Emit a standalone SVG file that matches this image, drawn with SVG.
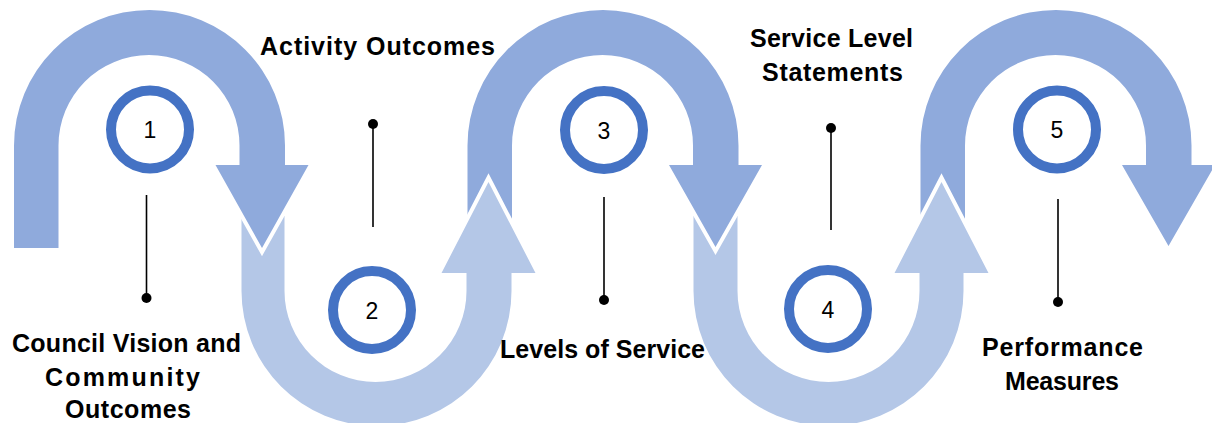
<svg xmlns="http://www.w3.org/2000/svg" width="1212" height="423" viewBox="0 0 1212 423">
<style>
.dark{fill:#8faadc;stroke:#fff;stroke-width:8;paint-order:stroke;stroke-linejoin:miter}
.light{fill:#b4c7e7;stroke:#fff;stroke-width:8;paint-order:stroke;stroke-linejoin:miter}
.ring{fill:#fff;stroke:#4472c4;stroke-width:10}
.num{font-family:"Liberation Sans",Arial,sans-serif;font-size:23px;fill:#000;text-anchor:middle}
.lbl{font-family:"Liberation Sans",Arial,sans-serif;font-size:25px;font-weight:bold;fill:#000}
.ln{stroke:#000;stroke-width:1.6;fill:none}
.dot{fill:#000}
</style>
<rect width="1212" height="423" fill="#fff"/>
<g id="arrows">
  <path id="arrow5" class="dark" d="M920.5,250 V145.5 A135.5,135.5 0 0 1 1191.5,145.5 V165 H1215 L1168.5,246 L1122,165 H1146 V145.5 A90.5,90.5 0 0 0 965,145.5 V250 Z"/>
  <path id="arrow4" class="light" d="M693.5,216 V291 A135,135 0 0 0 963.5,291 V273 H988.5 L941.5,182 L894.5,273 H919.5 V291 A91,91 0 0 1 737.5,291 V216 Z"/>
  <path id="arrow3" class="dark" d="M467.5,250 V145.5 A135.5,135.5 0 0 1 738.5,145.5 V165 H762 L715.5,247 L669,165 H693 V145.5 A90.5,90.5 0 0 0 512,145.5 V250 Z"/>
  <path id="arrow2" class="light" d="M241.5,216 V291 A135,135 0 0 0 511.5,291 V273 H535.5 L488.5,182 L441.5,273 H466.5 V291 A91,91 0 0 1 284.5,291 V216 Z"/>
  <path id="arrow1" class="dark" d="M14,248 V145.5 A135.5,135.5 0 0 1 285,145.5 V165 H308.5 L262,248 L215.5,165 H239.5 V145.5 A90.5,90.5 0 0 0 58.5,145.5 V248 Z"/>
</g>
<g id="connectors">
  <line class="ln" x1="146.5" y1="195" x2="146.5" y2="298"/><circle class="dot" cx="146.5" cy="298" r="5"/>
  <line class="ln" x1="373" y1="124" x2="373" y2="227"/><circle class="dot" cx="373" cy="124" r="5"/>
  <line class="ln" x1="604" y1="197" x2="604" y2="300"/><circle class="dot" cx="604" cy="300" r="5"/>
  <line class="ln" x1="831" y1="128" x2="831" y2="230"/><circle class="dot" cx="831" cy="128" r="5"/>
  <line class="ln" x1="1058" y1="199" x2="1058" y2="302"/><circle class="dot" cx="1058" cy="302" r="5"/>
</g>
<g id="step1"><circle class="ring" cx="150" cy="129.5" r="39"/><text class="num" x="150" y="138">1</text></g>
<g id="step2"><circle class="ring" cx="372" cy="310" r="39"/><text class="num" x="372" y="318.5">2</text></g>
<g id="step3"><circle class="ring" cx="604" cy="130" r="39"/><text class="num" x="604" y="138.5">3</text></g>
<g id="step4"><circle class="ring" cx="828" cy="309" r="39"/><text class="num" x="828" y="317.5">4</text></g>
<g id="step5"><circle class="ring" cx="1057" cy="129.5" r="39"/><text class="num" x="1057" y="138">5</text></g>
<g id="label1">
  <text class="lbl" x="12" y="352" textLength="229">Council Vision and</text>
  <text class="lbl" x="45" y="386" textLength="155">Community</text>
  <text class="lbl" x="65" y="418" textLength="126">Outcomes</text>
</g>
<g id="label2"><text class="lbl" x="260" y="55" textLength="235">Activity Outcomes</text></g>
<g id="label3"><text class="lbl" x="500" y="358" textLength="205">Levels of Service</text></g>
<g id="label4">
  <text class="lbl" x="750" y="47" textLength="163">Service Level</text>
  <text class="lbl" x="762" y="81" textLength="141">Statements</text>
</g>
<g id="label5">
  <text class="lbl" x="982" y="356" textLength="161">Performance</text>
  <text class="lbl" x="1005" y="390" textLength="114">Measures</text>
</g>
</svg>
